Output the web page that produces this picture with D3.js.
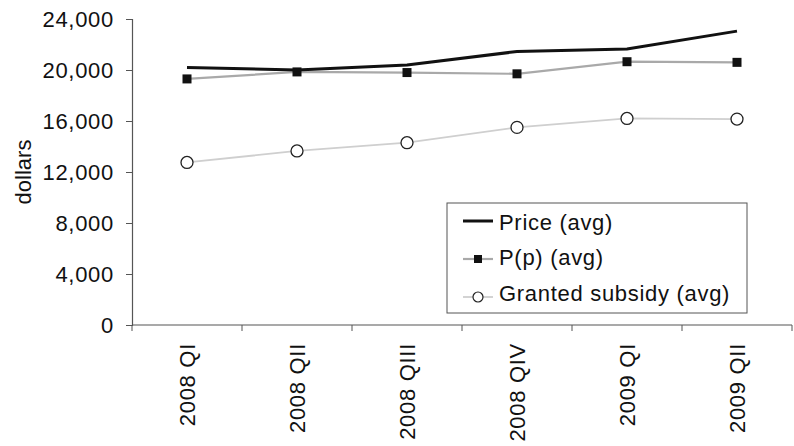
<!DOCTYPE html>
<html>
<head>
<meta charset="utf-8">
<script src="https://cdn.jsdelivr.net/npm/d3@7"></script>
<style>
  html, body { margin: 0; padding: 0; background: #fff; }
  svg { display: block; font-family: "Liberation Sans", Arial, sans-serif; }
</style>
</head>
<body>
<svg id="chart" width="794" height="446"></svg>
<script>
// Quarterly averages, in dollars
const quarters = ["2008 QI", "2008 QII", "2008 QIII", "2008 QIV", "2009 QI", "2009 QII"];
const priceAvg = [20200, 20000, 20400, 21450, 21650, 23050];
const ppAvg = [19300, 19850, 19800, 19700, 20650, 20600];
const subsidyAvg = [12750, 13650, 14300, 15500, 16200, 16150];
const yTicks = [0, 4000, 8000, 12000, 16000, 20000, 24000];
const seriesNames = ["Price (avg)", "P(p) (avg)", "Granted subsidy (avg)"];

const svg = d3.select("#chart");
const plot = { left: 132, right: 792, top: 19, bottom: 325 };
const FONT = 22;
const SPACING = 0.7;

const x = d3.scaleBand().domain(quarters).range([plot.left, plot.right]).padding(0);
const y = d3.scaleLinear().domain([0, 24000]).range([plot.bottom, plot.top]);
const cx = d => x(d) + x.bandwidth() / 2;

// Y axis
const yAxis = svg.append("g")
  .attr("transform", `translate(${plot.left},0)`)
  .call(d3.axisLeft(y).tickValues(yTicks).tickSize(6).tickPadding(12)
    .tickFormat(d3.format(",")));
yAxis.select(".domain").attr("stroke", "#555").attr("stroke-width", 1.2);
yAxis.selectAll(".tick line").attr("stroke", "#555");
yAxis.selectAll("text").attr("font-size", FONT).attr("fill", "#111")
  .attr("letter-spacing", SPACING)
  .attr("font-family", "'Liberation Sans', Arial, sans-serif");

svg.append("text")
  .attr("transform", `translate(31,${(plot.top + plot.bottom) / 2}) rotate(-90)`)
  .attr("text-anchor", "middle")
  .attr("font-size", FONT)
  .attr("fill", "#111")
  .text("dollars");

// X axis: ticks sit on category boundaries
const xg = svg.append("g").attr("transform", `translate(0,${plot.bottom})`);
xg.append("line").attr("x1", plot.left).attr("x2", plot.right).attr("stroke", "#555").attr("stroke-width", 1.2);
const bounds = quarters.map(q => x(q)).concat([x.range()[1]]);
xg.selectAll("line.tk").data(bounds).join("line").attr("class", "tk")
  .attr("x1", d => d).attr("x2", d => d).attr("y1", 0).attr("y2", 6)
  .attr("stroke", "#555");
xg.selectAll("text").data(quarters).join("text")
  .attr("transform", d => `translate(${cx(d) + 8},18) rotate(-90)`)
  .attr("text-anchor", "end")
  .attr("font-size", FONT)
  .attr("letter-spacing", SPACING)
  .attr("fill", "#111")
  .text(d => d);

const line = d3.line().x((d, i) => cx(quarters[i])).y(d => y(d));

// Granted subsidy
svg.append("path").datum(subsidyAvg).attr("d", line)
  .attr("fill", "none").attr("stroke", "#cfcfcf").attr("stroke-width", 1.8);
svg.selectAll("circle.sub").data(subsidyAvg).join("circle").attr("class", "sub")
  .attr("cx", (d, i) => cx(quarters[i])).attr("cy", d => y(d)).attr("r", 6)
  .attr("fill", "#fff").attr("stroke", "#222").attr("stroke-width", 1.3);

// P(p)
svg.append("path").datum(ppAvg).attr("d", line)
  .attr("fill", "none").attr("stroke", "#a9a9a9").attr("stroke-width", 2.2);
svg.selectAll("rect.pp").data(ppAvg).join("rect").attr("class", "pp")
  .attr("x", (d, i) => cx(quarters[i]) - 4.5).attr("y", d => y(d) - 4.5)
  .attr("width", 9).attr("height", 9).attr("fill", "#111");

// Price
svg.append("path").datum(priceAvg).attr("d", line)
  .attr("fill", "none").attr("stroke", "#111").attr("stroke-width", 3);

// Legend
const lg = svg.append("g");
lg.append("rect").attr("x", 447).attr("y", 203).attr("width", 300).attr("height", 110)
  .attr("fill", "#fff").attr("stroke", "#555").attr("stroke-width", 1);
const rowY = [221, 259, 297];
const textY = [230, 265, 301];
const sx1 = 463, sx2 = 493, sm = (sx1 + sx2) / 2;
lg.append("line").attr("x1", sx1).attr("x2", sx2).attr("y1", rowY[0]).attr("y2", rowY[0])
  .attr("stroke", "#111").attr("stroke-width", 3);
lg.append("line").attr("x1", sx1).attr("x2", sx2).attr("y1", rowY[1]).attr("y2", rowY[1])
  .attr("stroke", "#a9a9a9").attr("stroke-width", 2.2);
lg.append("rect").attr("x", sm - 4).attr("y", rowY[1] - 4).attr("width", 8).attr("height", 8).attr("fill", "#111");
lg.append("line").attr("x1", sx1).attr("x2", sx2).attr("y1", rowY[2]).attr("y2", rowY[2])
  .attr("stroke", "#cfcfcf").attr("stroke-width", 1.8);
lg.append("circle").attr("cx", sm).attr("cy", rowY[2]).attr("r", 5)
  .attr("fill", "#fff").attr("stroke", "#222").attr("stroke-width", 1.2);
lg.selectAll("text").data(seriesNames).join("text")
  .attr("x", 499).attr("y", (d, i) => textY[i])
  .attr("font-size", FONT).attr("letter-spacing", SPACING).attr("fill", "#111")
  .text(d => d);
</script>
</body>
</html>
